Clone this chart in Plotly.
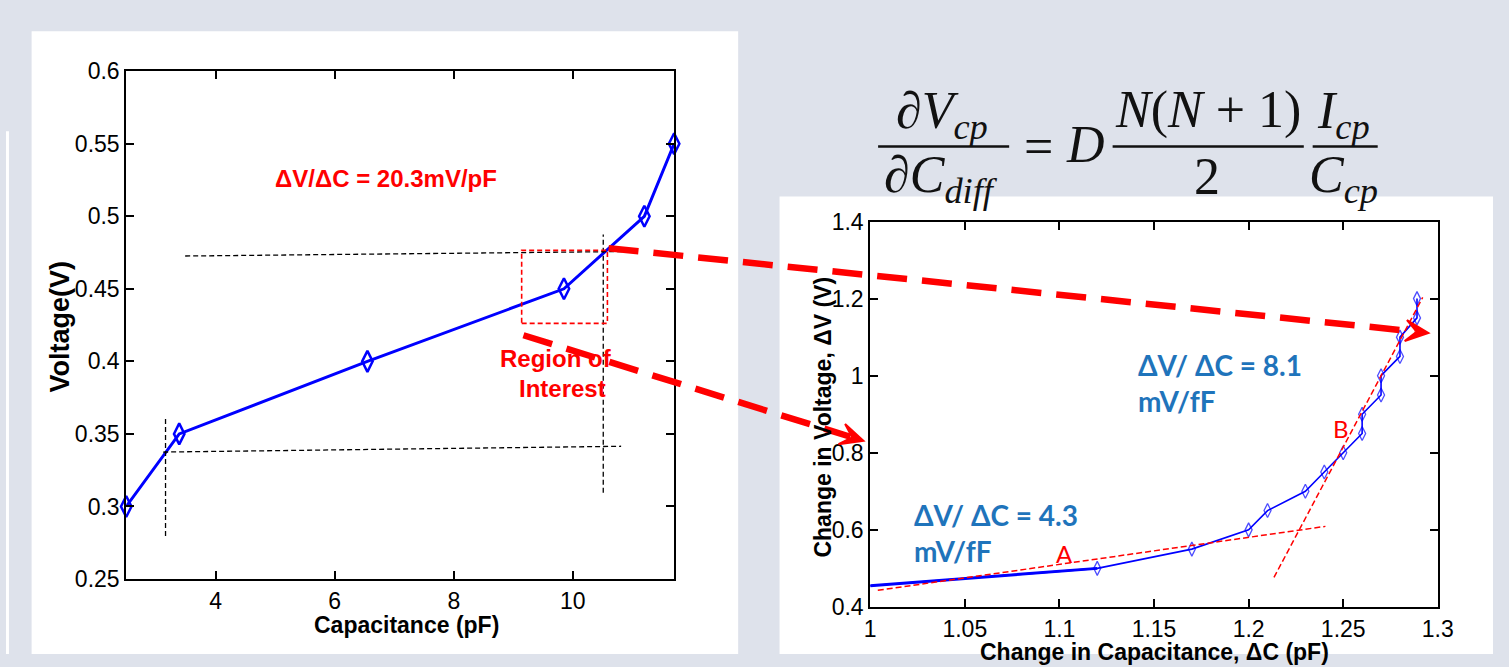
import math
import plotly.graph_objects as go

W, H = 1509, 667

# ---------------- data ----------------
# left chart: Voltage vs Capacitance
cap_pf = [2.5, 3.39, 6.55, 9.85, 11.2, 11.7]
voltage_v = [0.30, 0.35, 0.40, 0.45, 0.50, 0.55]

# right chart: change in voltage vs change in capacitance
dcap_pf = [1.00, 1.12, 1.17, 1.20, 1.21, 1.23, 1.24, 1.25, 1.26, 1.26,
           1.27, 1.27, 1.28, 1.28, 1.289, 1.289]
dvolt_v = [0.455, 0.50, 0.55, 0.60, 0.65, 0.70, 0.75, 0.80, 0.85, 0.90,
           0.95, 1.00, 1.05, 1.10, 1.15, 1.20]

# left ticks
left_xticks = [4, 6, 8, 10]
left_yticks = [0.25, 0.3, 0.35, 0.4, 0.45, 0.5, 0.55, 0.6]
left_yticktext = ["0.25", "0.3", "0.35", "0.4", "0.45", "0.5", "0.55", "0.6"]
# right ticks
right_xticks = [1, 1.05, 1.1, 1.15, 1.2, 1.25, 1.3]
right_xticktext = ["1", "1.05", "1.1", "1.15", "1.2", "1.25", "1.3"]
right_yticks = [0.4, 0.6, 0.8, 1.0, 1.2, 1.4]
right_yticktext = ["0.4", "0.6", "0.8", "1", "1.2", "1.4"]

# guide lines on left chart (x0, y0, x1, y1)
guide_h_upper = [3.49, 0.4726, 10.89, 0.4757]
guide_h_lower = [3.12, 0.3375, 10.81, 0.3415]
guide_v_left = [3.16, 0.2797, 3.16, 0.361]
guide_v_right = [10.51, 0.3095, 10.51, 0.4874]
roi_rect = [9.14, 0.4262, 10.58, 0.4765]

# tangent lines on right chart
tangent_a = [1.004, 0.443, 1.2406, 0.609]
tangent_b = [1.2134, 0.4765, 1.292, 1.203]

LEFT_XR = [2.5, 11.7]
LEFT_YR = [0.25, 0.6]
RIGHT_XR = [1.0, 1.3]
RIGHT_YR = [0.4, 1.4]

# ---------------- layout geometry (pixels) ----------------
LEFT_BOX = (122, 678, 60.5, 589)    # x0, x1, ytop, ybottom
RIGHT_BOX = (877, 1453, 217, 618)


def dom_x(b):
    return [b[0] / W, b[1] / W]


def dom_y(b):
    return [1 - b[3] / H, 1 - b[2] / H]


def to_px(box, xr, yr, x, y):
    px = box[0] + (x - xr[0]) / (xr[1] - xr[0]) * (box[1] - box[0])
    py = box[3] - (y - yr[0]) / (yr[1] - yr[0]) * (box[3] - box[2])
    return px, py


def P(px, py):
    return px / W, 1 - py / H


BLUE = "#0000ff"
RED = "#ff0000"
SANS = "Liberation Sans, Arial, sans-serif"
LEFT_TICKFONT = dict(family=SANS, size=23, color="black")
RIGHT_TICKFONT = dict(family=SANS, size=23, color="black")

fig = go.Figure()

fig.add_trace(go.Scatter(
    x=cap_pf, y=voltage_v, mode="lines+markers", xaxis="x", yaxis="y",
    line=dict(color=BLUE, width=3),
    marker=dict(symbol="diamond-tall-open", size=15, color=BLUE, line=dict(width=2.5, color=BLUE)),
    cliponaxis=False, showlegend=False, hoverinfo="skip"))

fig.add_trace(go.Scatter(
    x=dcap_pf, y=dvolt_v, mode="lines+markers", xaxis="x2", yaxis="y2",
    line=dict(color=BLUE, width=1.6),
    marker=dict(symbol="diamond-tall-open", size=[0] + [10] * (len(dcap_pf) - 1),
                color=BLUE, line=dict(width=1.3, color=BLUE)),
    cliponaxis=False, showlegend=False, hoverinfo="skip"))
fig.add_trace(go.Scatter(
    x=dcap_pf[:2], y=dvolt_v[:2], mode="lines", xaxis="x2", yaxis="y2",
    line=dict(color=BLUE, width=3), showlegend=False, hoverinfo="skip"))

axis_common = dict(ticks="inside", ticklen=8, tickwidth=1.5, tickcolor="black",
                   showline=True, linecolor="black", linewidth=2, mirror="allticks",
                   showgrid=False, zeroline=False, fixedrange=True)

shapes = []
# background panels
shapes.append(dict(type="rect", xref="paper", yref="paper", layer="below",
                   x0=26 / W, x1=743 / W, y0=0, y1=1 - 19 / H, fillcolor="white", line=dict(width=0)))
shapes.append(dict(type="rect", xref="paper", yref="paper", layer="below",
                   x0=785 / W, x1=1, y0=0, y1=1 - 191 / H, fillcolor="white", line=dict(width=0)))
shapes.append(dict(type="rect", xref="paper", yref="paper", layer="below",
                   x0=0, x1=3 / W, y0=0, y1=1 - 123 / H, fillcolor="white", line=dict(width=0)))

# black dashed guides
for g in [guide_h_upper, guide_h_lower, guide_v_left, guide_v_right]:
    shapes.append(dict(type="line", xref="x", yref="y", x0=g[0], y0=g[1], x1=g[2], y1=g[3],
                       line=dict(color="black", width=1.3, dash="5px,3px")))
shapes.append(dict(type="rect", xref="x", yref="y", x0=roi_rect[0], y0=roi_rect[1],
                   x1=roi_rect[2], y1=roi_rect[3], line=dict(color=RED, width=1.6, dash="5px,3px")))
for t in [tangent_a, tangent_b]:
    shapes.append(dict(type="line", xref="x2", yref="y2", x0=t[0], y0=t[1], x1=t[2], y1=t[3],
                       line=dict(color=RED, width=1.5, dash="6px,3px")))

# big red dashed arrows from region of interest (left) to right chart
arrows = [
    ((10.6, 0.478), (1.295, 1.111)),
    ((9.17, 0.418), (0.9964, 0.831)),
]
for (sx, sy), (ex, ey) in arrows:
    p0 = to_px(LEFT_BOX, LEFT_XR, LEFT_YR, sx, sy)
    p1 = to_px(RIGHT_BOX, RIGHT_XR, RIGHT_YR, ex, ey)
    dx, dy = p1[0] - p0[0], p1[1] - p0[1]
    L = math.hypot(dx, dy)
    ux, uy = dx / L, dy / L
    nx, ny = -uy, ux
    notch = (p1[0] - 12 * ux, p1[1] - 12 * uy)
    b1 = (p1[0] - 23 * ux + 11 * nx, p1[1] - 23 * uy + 11 * ny)
    b2 = (p1[0] - 23 * ux - 11 * nx, p1[1] - 23 * uy - 11 * ny)
    a0 = P(*p0)
    a1 = P(notch[0] - 2 * ux, notch[1] - 2 * uy)
    shapes.append(dict(type="line", xref="paper", yref="paper", x0=a0[0], y0=a0[1], x1=a1[0], y1=a1[1],
                       line=dict(color=RED, width=6.5, dash="30px,15px")))
    pts = [P(*b1), P(*p1), P(*b2), P(*notch)]
    path = "M{},{} L{},{} L{},{} L{},{} Z".format(*[c for pt in pts for c in pt])
    shapes.append(dict(type="path", xref="paper", yref="paper", path=path,
                       fillcolor=RED, line=dict(color=RED, width=2)))

# formula fraction bars
for x0, x1 in [(885, 1018), (1123, 1317), (1326, 1392)]:
    a, b = P(x0, 139), P(x1, 139)
    shapes.append(dict(type="line", xref="paper", yref="paper", x0=a[0], y0=a[1], x1=b[0], y1=b[1],
                       line=dict(color="#111", width=2.5)))

ann = []


def add_text(text, px, py, size, color="black", family=SANS,
             angle=0, xanchor="center", yanchor="middle"):
    x, y = P(px, py)
    ann.append(dict(text=text, x=x, y=y, xref="paper", yref="paper", showarrow=False,
                    font=dict(size=size, color=color, family=family), textangle=angle,
                    xanchor=xanchor, yanchor=yanchor))


def add_data_text(text, x, y, xref, yref, size, color, family, xanchor="center"):
    ann.append(dict(text=text, x=x, y=y, xref=xref, yref=yref, showarrow=False,
                    font=dict(size=size, color=color, family=family), xanchor=xanchor, yanchor="middle"))


# axis titles
add_text("<b>Voltage(V)</b>", 55, 326, 27, angle=-90)
add_text("<b>Capacitance (pF)</b>", 406, 637, 23)
add_text("<b>Change in Voltage, ΔV (V)</b>", 829, 420, 23, angle=-90)
add_text("<b>Change in Capacitance, ΔC (pF)</b>", 1165, 665, 23)

# left chart labels
add_data_text("<b>ΔV/ΔC = 20.3mV/pF</b>", 6.87, 0.5262, "x", "y", 24, RED, SANS)
add_data_text("<b>Region of</b>", 9.72, 0.4017, "x", "y", 24, RED, SANS)
add_data_text("<b>Interest</b>", 9.82, 0.381, "x", "y", 24, RED, SANS)

# right chart labels
LATO = "Lato, Open Sans, sans-serif"
BLUE_TXT = "#1f74bb"
add_data_text("<b>ΔV/ ΔC = 8.1</b>", 1.1406, 1.0284, "x2", "y2", 28, BLUE_TXT, LATO, xanchor="left")
add_data_text("<b>mV/fF</b>", 1.1406, 0.934, "x2", "y2", 28, BLUE_TXT, LATO, xanchor="left")
add_data_text("<b>ΔV/ ΔC = 4.3</b>", 1.0219, 0.6394, "x2", "y2", 28, BLUE_TXT, LATO, xanchor="left")
add_data_text("<b>mV/fF</b>", 1.0219, 0.5446, "x2", "y2", 28, BLUE_TXT, LATO, xanchor="left")
add_data_text("A", 1.1025, 0.538, "x2", "y2", 24, RED, LATO)
add_data_text("B", 1.249, 0.862, "x2", "y2", 24, RED, LATO)

# formula
SERIF = "Liberation Serif, DejaVu Serif, serif"
FS = 52
add_text("∂<i>V</i><sub><i>cp</i></sub>", 950, 106, FS, "#111", SERIF)
add_text("∂<i>C</i><sub><i>diff</i></sub>", 949, 172, FS, "#111", SERIF)
add_text("=", 1048, 139, FS, "#111", SERIF)
add_text("<i>D</i>", 1095, 137, FS, "#111", SERIF)
add_text("<i>N</i>(<i>N</i> + 1)", 1220, 101, FS, "#111", SERIF)
add_text("2", 1219, 170, FS, "#111", SERIF)
add_text("<i>I</i><sub><i>cp</i></sub>", 1357, 106, FS, "#111", SERIF)
add_text("<i>C</i><sub><i>cp</i></sub>", 1357, 172, FS, "#111", SERIF)

fig.update_layout(
    width=W, height=H, margin=dict(l=0, r=0, t=0, b=0),
    paper_bgcolor="#dee2eb", plot_bgcolor="white",
    xaxis=dict(domain=dom_x(LEFT_BOX), range=LEFT_XR, tickvals=left_xticks,
               ticktext=[str(v) for v in left_xticks], anchor="y", tickfont=LEFT_TICKFONT, **axis_common),
    yaxis=dict(domain=dom_y(LEFT_BOX), range=LEFT_YR, tickvals=left_yticks,
               ticktext=left_yticktext, anchor="x", tickfont=LEFT_TICKFONT, **axis_common),
    xaxis2=dict(domain=dom_x(RIGHT_BOX), range=RIGHT_XR, tickvals=right_xticks,
                ticktext=right_xticktext, anchor="y2", tickfont=RIGHT_TICKFONT, **axis_common),
    yaxis2=dict(domain=dom_y(RIGHT_BOX), range=RIGHT_YR, tickvals=right_yticks,
                ticktext=right_yticktext, anchor="x2", tickfont=RIGHT_TICKFONT, **axis_common),
    shapes=shapes, annotations=ann, showlegend=False,
)

fig.write_html("out.html")
